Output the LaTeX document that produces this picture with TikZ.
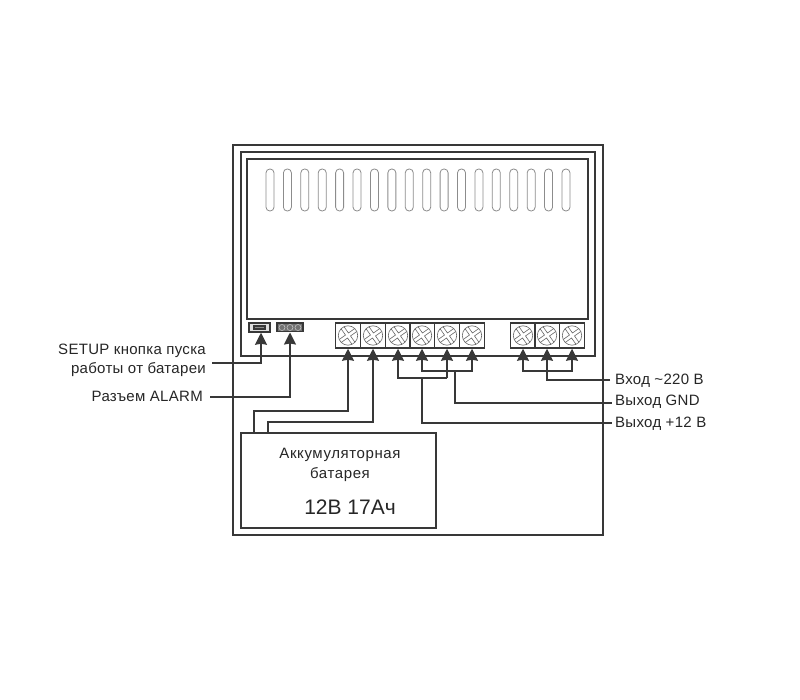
\documentclass[tikz,border=0pt]{standalone}
\usepackage{fontspec}
\setmainfont{Liberation Sans}
\usetikzlibrary{arrows.meta}
\tikzset{
    wire/.style={line width=1.5pt, draw=black!78},
    box/.style={wire, rectangle, inner sep=0pt},
    cell/.style={box, minimum width=24.7pt, minimum height=25pt},
    slot/.style={line width=0.8pt, draw=black!45, rounded corners=3.8pt},
    screw/.style={line width=0.6pt, draw=black!60},
    lbl/.style={inner sep=0pt, text=black!85, font=\fontsize{15}{15}\selectfont\addfontfeature{LetterSpace=2}},
}
\newcommand{\Screw}[1]{%
    \draw[screw] (#1) circle (9.7pt);
    \foreach \a in {35,125,215,305}
        \draw[screw, shift={(#1)}, rotate=\a] (9.5,1.8) -- (1.8,1.8) -- (1.8,9.5);
}
\begin{document}
\begin{tikzpicture}[>={Stealth[length=12pt, width=12pt, inset=1pt]}, x=1pt, y=-1pt]

    \useasboundingbox (0,0) rectangle (800,700);
    \fill[white] (0,0) rectangle (800,700);

    \draw[wire] (233,145) rectangle (603,535);
    \draw[wire] (241,152) rectangle (595,356);
    \draw[wire] (247,159) rectangle (588,319);

    \foreach \i in {0,...,17}
        \draw[slot] ({266+\i*17.41},169) rectangle ({274+\i*17.41},211);

    % terminals
    \foreach \i/\x in {1/348, 2/373, 3/398, 4/422, 5/447, 6/472, 7/523, 8/547, 9/572} {
        \draw (\x,335.5) node[cell] (t\i) {};
        \Screw{t\i.center}
    }

    % setup button and alarm connector
    \draw (259.5,327.5) node[box, fill=black!12, minimum width=21pt, minimum height=9pt] (setup) {};
    \draw[wire, fill=black!45] (259.5,327.5) +(-5.5,-1.6) rectangle +(5.5,1.6);
    \draw (290,327.5) node[box, fill=black!55, minimum width=26pt, minimum height=8.5pt] (alarm) {};
    \foreach \x in {282,290,298}
        \draw[line width=0.5pt, draw=black!20] (\x,327.5) circle (3pt);

    \draw (338.5,480.5) node[box, minimum width=195pt, minimum height=95pt] (bat) {};
    \draw (340,455) node[lbl, font=\fontsize{15}{15}\selectfont\addfontfeature{LetterSpace=4}] (bt1) {Аккумуляторная};
    \draw (340,475) node[lbl, font=\fontsize{15}{15}\selectfont\addfontfeature{LetterSpace=4}] (bt2) {батарея};
    \draw (350,507) node[lbl, font=\fontsize{21}{21}\selectfont] (bt3) {12В 17Ач};

    \draw (206,351) node[lbl, anchor=east] (l1) {SETUP кнопка пуска};
    \draw (206,370) node[lbl, anchor=east] (l2) {работы от батареи};
    \draw (203,396) node[lbl, anchor=east] (l3) {Разъем ALARM};
    \draw (615,381) node[lbl, anchor=west] (r1) {Вход \textasciitilde220 В};
    \draw (615,402) node[lbl, anchor=west] (r2) {Выход GND};
    \draw (615,424) node[lbl, anchor=west] (r3) {Выход +12 В};

    \coordinate (s1) at (212,363);
    \coordinate (a1) at (210,397);
    \coordinate (b1) at (254,433);
    \coordinate (b2) at (268,433);
    \coordinate (g1) at (612,403);
    \coordinate (g2) at (612,423);
    \coordinate (g3) at (610,380);

    \draw[wire, ->] (s1) -| ([xshift=1.5pt]setup.south);
    \draw[wire, ->] (a1) -| (alarm.south);
    \draw[wire, ->] (b1) |- (348,411) -- (t1.south);
    \draw[wire, ->] (b2) |- (373,422) -- (t2.south);

    \draw[wire, ->] (447,378) -| (t3.south);
    \draw[wire, ->] (447,378) -- (t5.south);
    \draw[wire, ->] (455,371) -| (t4.south);
    \draw[wire, ->] (455,371) -| (t6.south);
    \draw[wire] (455,371) |- (g1);
    \draw[wire] (422,378) |- (g2);

    \draw[wire, ->] (547,371) -| (t7.south);
    \draw[wire, ->] (547,371) -| (t9.south);
    \draw[wire, ->] (g3) -| (t8.south);

\end{tikzpicture}
\end{document}
